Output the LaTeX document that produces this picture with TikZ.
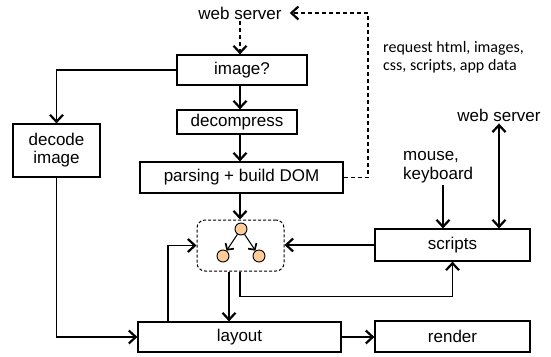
\documentclass[tikz,border=0pt]{standalone}
\usepackage{fontspec}
\setmainfont{Liberation Sans}
\newfontfamily\carl{Carlito}
\usetikzlibrary{arrows.meta,positioning,calc}
\definecolor{peach}{HTML}{FFCC99}
\begin{document}
\begin{tikzpicture}[x=1pt,y=-1pt,
  font=\fontsize{17}{19}\selectfont,
  >={Straight Barb[length=7pt,width=13pt,line width=2.2pt]},
  box/.style={draw,line width=1.2pt,minimum width=#1,inner sep=0pt,align=center},
  conn/.style={line width=1.1pt,->},
  dconn/.style={conn,dash pattern=on 4pt off 3pt},
  lbl/.style={inner sep=2pt,align=left},
  dot/.style={circle,draw,fill=peach,line width=0.9pt,minimum size=12pt,inner sep=0pt},
  small/.style={line width=1pt,-{Straight Barb[length=4.5pt,width=10pt,line width=1.7pt]}}]
\useasboundingbox (0,0) rectangle (551,356);
\coordinate (ax) at (240,0);
\coordinate (lx) at (168,0);
\coordinate (dx) at (229,0);
\coordinate (mx) at (443,0);
\coordinate (rc) at (368,13);

\node[lbl,inner xsep=8pt] (ws1) at (240,13) {web server};
\node[box=130pt,minimum height=30pt] (img) at (242,70) {image?};
\node[box=120pt,minimum height=24pt] (dec) at (237,122) {decompress};
\node[box=203pt,minimum height=31pt] (parse) at (241.5,177.5) {parsing + build DOM};
\node[box=87pt,minimum height=53pt] (decode) at (56.5,150.5) {decode\\[-1pt]image};
\node[draw,dash pattern=on 3pt off 2pt,line width=1pt,rounded corners=8pt,minimum width=87pt,minimum height=51pt,inner sep=0pt] (dom) at (240.5,245.5) {};
\node[dot] (c1) at (241,229) {};
\node[dot] (c2) at (223,256) {};
\node[dot] (c3) at (259,256) {};
\node[box=203pt,minimum height=30pt] (layout) at (239.5,337) {layout};
\node[box=155pt,minimum height=31pt] (render) at (452.5,336.5) {render};
\node[box=155pt,minimum height=32pt] (scripts) at (452.5,245) {scripts};
\node[lbl,anchor=west] (mk) at (401,167) {mouse,\\keyboard};
\node[lbl] (ws2) at (499,115) {web server};
\node[lbl,anchor=west,font=\carl\fontsize{16}{18}\selectfont] (req) at (381,57) {request html, images,\\css, scripts, app data};

\draw[dconn] (ws1.south -| ax) -- (img.north -| ax);
\draw[conn] (img.south -| ax) -- (dec.north -| ax);
\draw[conn] (dec.south -| ax) -- (parse.north -| ax);
\draw[conn] (parse.south -| ax) -- (dom.north -| ax);
\draw[dconn] (parse.east) -| (rc) -- (ws1.east);
\draw[conn] (img.west) -| (decode.north);
\draw[conn] (decode.south) |- (layout.west);
\draw[conn] (layout.north -| lx) |- (dom.west);
\draw[conn] (dom.south -| dx) -- (layout.north -| dx);
\draw[conn] (dom.south -| ax) -- ++(0,25) -| (scripts.south);
\draw[conn] (scripts.west) -- (scripts.west -| dom.east);
\draw[conn] (layout.east) -- (layout.east -| render.west);
\draw[conn] (mk.south -| mx) -- (scripts.north -| mx);
\draw[line width=1.1pt,<->] (ws2.south) -- (ws2.south |- scripts.north);
\draw[small] (c1) -- (c2);
\draw[small] (c1) -- (c3);
\end{tikzpicture}
\end{document}
